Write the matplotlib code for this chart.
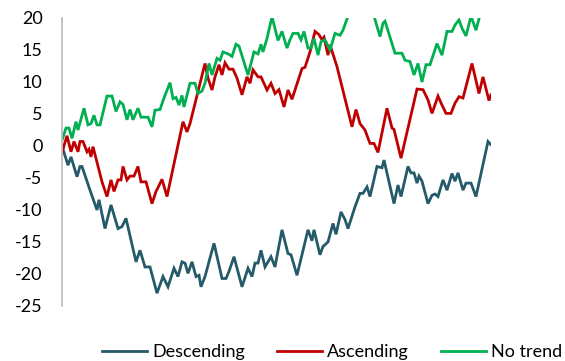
import matplotlib.pyplot as plt

# step index of each turning point, and the value there
desc_x = [0, 6, 9, 15, 18, 20, 28, 35, 37, 43, 49, 56, 60, 64, 74, 78, 83, 88, 95,
          101, 106, 112, 116, 120, 123, 126, 130, 134, 137, 139, 143, 152, 160, 164,
          167, 172, 180, 186, 190, 193, 196, 199, 203, 209, 213, 220, 226, 229, 235,
          246, 250, 252, 258, 261, 266, 271, 274, 279, 283, 286, 293, 298, 301, 305,
          308, 315, 320, 322, 332, 336, 339, 346, 349, 352, 355, 357, 360, 366, 370,
          373, 376, 381, 385, 390, 393, 396, 401, 404, 409, 414, 426, 429]
desc_y = [0, -3, -1.7, -4.8, -3.2, -3.2, -6.9, -10, -8.4, -12.9, -9.2, -12.9, -12.6,
          -11.3, -18.1, -16.3, -18.9, -18.9, -23, -20.4, -22, -19.1, -20.4, -18.1,
          -18.3, -19.9, -18.1, -20.4, -20.2, -22, -20.4, -15.2, -20.7, -20.7, -19.6,
          -17.3, -22, -19.1, -20.4, -18.3, -18.3, -16.3, -18.9, -17.3, -18.9, -13.1,
          -16.8, -17, -20.2, -13.1, -14.8, -13.1, -17, -15.7, -15, -12.1, -13.8,
          -10.3, -11.5, -12.9, -9.5, -7.4, -7.4, -6.4, -7.9, -3.2, -3.4, -2.2, -9,
          -6.1, -7.9, -3.2, -4.2, -4.2, -5.8, -4.7, -5.5, -9, -7.7, -7.5, -7.9, -5.3,
          -6.9, -4.3, -5.5, -4.2, -6.9, -5.8, -5.8, -7.9, 0.7, 0.2]

asc_x = [0, 5, 9, 12, 16, 18, 21, 25, 27, 29, 31, 40, 45, 49, 52, 56, 59, 61, 65,
         68, 72, 76, 79, 84, 90, 94, 96, 100, 105, 121, 125, 128, 143, 146, 150, 153,
         157, 160, 163, 167, 171, 175, 180, 185, 188, 191, 196, 199, 205, 209, 213,
         217, 222, 226, 230, 233, 240, 243, 248, 253, 257, 260, 262, 266, 268, 275,
         290, 294, 298, 303, 308, 312, 316, 325, 330, 332, 339, 355, 361, 366, 370,
         376, 380, 384, 389, 393, 397, 401, 410, 417, 421, 427, 429]
asc_y = [-1, 1.6, -0.9, 0.7, -0.9, 0.7, 0.7, -0.9, -0.5, -1.7, -0.1, -5.6, -7.9,
         -5.3, -7.1, -5.3, -5.3, -3.2, -5.3, -4.7, -4.7, -3.2, -5.6, -5.6, -9, -7.1,
         -6.5, -5.2, -7.9, 3.8, 2.2, 3.5, 12.9, 10.6, 8.75, 10.8, 12.7, 11.1, 13, 12,
         12, 10.6, 8, 10.8, 9.8, 11.9, 10.8, 10.8, 8.75, 9.8, 8.2, 8.8, 6.1, 8.75,
         7.3, 8.75, 12.1, 12.3, 14.7, 17.9, 17.4, 16.6, 17, 14.2, 15.8, 12.4, 3, 5.7,
         3.5, 2.5, 0.4, 0.4, -1, 5.9, 2.8, 2.6, -1.9, 8.9, 8.8, 7.2, 5.1, 7.8, 6.4,
         5.1, 5.1, 6.7, 7.7, 7.5, 12.9, 8.2, 10.8, 7.1, 8]

flat_x = [0, 4, 7, 10, 14, 16, 22, 26, 29, 32, 35, 38, 45, 50, 54, 58, 61, 65, 68,
          71, 76, 79, 86, 90, 93, 98, 102, 108, 111, 114, 117, 120, 122, 128, 133,
          136, 140, 143, 147, 150, 155, 158, 161, 166, 170, 174, 177, 186, 192, 196,
          199, 201, 205, 210, 216, 220, 225, 228, 231, 236, 239, 242, 246, 249, 252,
          256, 259, 263, 268, 273, 278, 281, 286, 299, 312, 318, 321, 323, 333, 340,
          343, 348, 352, 356, 360, 364, 368, 375, 380, 385, 390, 393, 397, 400, 404,
          409, 414, 418, 429]
flat_y = [0.9, 2.8, 2.8, 1.2, 3.8, 2.5, 5.9, 3.3, 3.5, 4.8, 3.3, 3.3, 7.8, 7.8, 5.4,
          6.9, 6.5, 4.1, 5.7, 4.1, 5.9, 4.5, 4.5, 3, 5.6, 5.7, 7.5, 9.9, 7.4, 7.6,
          6.4, 7.9, 6.1, 9.8, 9.8, 8.2, 8.6, 9.8, 12.9, 11.1, 13.7, 13.4, 14.7, 14.4,
          14, 15.9, 15.6, 11.1, 14.7, 14.4, 15.9, 14.7, 16.8, 20.2, 16.5, 17.9, 15.3,
          16.6, 17.6, 17.6, 16.6, 17.9, 15.3, 15.3, 16.8, 14.2, 16.3, 16.6, 15, 17.6,
          17.3, 18.1, 20.3, 23, 20.3, 17.1, 19.2, 19.5, 14.5, 14.5, 13.4, 13.2, 11.1,
          12.9, 10, 12.7, 12.7, 16, 14.2, 17.9, 17.9, 18.9, 19.7, 18.4, 17.2, 20.3,
          18.1, 20.5, 22]

series = [('Descending', desc_x, desc_y, '#245a69'),
          ('Ascending', asc_x, asc_y, '#c00000'),
          ('No trend', flat_x, flat_y, '#00b050')]

yticks = [-25, -20, -15, -10, -5, 0, 5, 10, 15, 20]


def make_chart():
    plt.rcParams['font.family'] = ['Lato', 'DejaVu Sans']
    plt.rcParams['axes.unicode_minus'] = False

    fig = plt.figure(figsize=(5.65, 3.61), dpi=100)
    ax = fig.add_axes([62/565, 1 - 306/361, 429/565, 288/361])

    for name, x, y, c in series:
        ax.plot(x, y, color=c, lw=2.0, label=name, solid_joinstyle='miter')

    ax.set_xlim(0, 429)
    ax.set_ylim(-25, 20)
    ax.set_yticks(yticks)
    ax.set_yticklabels([str(t) for t in yticks])
    ax.set_xticks([])
    ax.tick_params(axis='y', length=0, pad=14, labelsize=13, labelcolor='#000000')

    for s in ['top', 'right', 'bottom']:
        ax.spines[s].set_visible(False)
    ax.spines['left'].set_color('#bfbfbf')
    ax.spines['left'].set_linewidth(1.3)

    fig.legend(loc='center', bbox_to_anchor=(332/565, 1 - 352/361), ncol=3,
               frameon=False, fontsize=13, handlelength=2.5, handletextpad=0.3,
               columnspacing=1.75, borderaxespad=0, borderpad=0)

    fig.savefig('out.png', dpi=100)
    plt.close()


if __name__ == "__main__":
    make_chart()
